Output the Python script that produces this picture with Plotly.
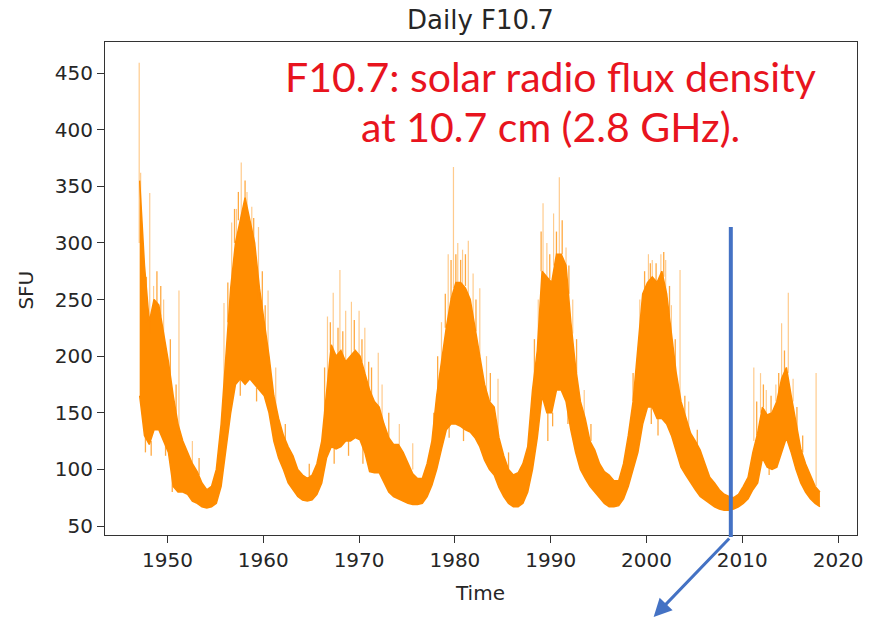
import plotly.graph_objects as go

# ---- data (half-year envelope of the daily series) ----
t = [1947.1, 1947.6, 1948.1, 1948.6, 1949.1, 1949.6, 1950.1, 1950.6, 1951.1, 1951.6,
     1952.1, 1952.6, 1953.1, 1953.6, 1954.1, 1954.6, 1955.1, 1955.6, 1956.1, 1956.6,
     1957.1, 1957.6, 1958.1, 1958.6, 1959.1, 1959.6, 1960.1, 1960.6, 1961.1, 1961.6,
     1962.1, 1962.6, 1963.1, 1963.6, 1964.1, 1964.6, 1965.1, 1965.6, 1966.1, 1966.6,
     1967.1, 1967.6, 1968.1, 1968.6, 1969.1, 1969.6, 1970.1, 1970.6, 1971.1, 1971.6,
     1972.1, 1972.6, 1973.1, 1973.6, 1974.1, 1974.6, 1975.1, 1975.6, 1976.1, 1976.6,
     1977.1, 1977.6, 1978.1, 1978.6, 1979.1, 1979.6, 1980.1, 1980.6, 1981.1, 1981.6,
     1982.1, 1982.6, 1983.1, 1983.6, 1984.1, 1984.6, 1985.1, 1985.6, 1986.1, 1986.6,
     1987.1, 1987.6, 1988.1, 1988.6, 1989.1, 1989.6, 1990.1, 1990.6, 1991.1, 1991.6,
     1992.1, 1992.6, 1993.1, 1993.6, 1994.1, 1994.6, 1995.1, 1995.6, 1996.1, 1996.6,
     1997.1, 1997.6, 1998.1, 1998.6, 1999.1, 1999.6, 2000.1, 2000.6, 2001.1, 2001.6,
     2002.1, 2002.6, 2003.1, 2003.6, 2004.1, 2004.6, 2005.1, 2005.6, 2006.1, 2006.6,
     2007.1, 2007.6, 2008.1, 2008.6, 2009.1, 2009.6, 2010.1, 2010.6, 2011.1, 2011.6,
     2012.1, 2012.6, 2013.1, 2013.6, 2014.1, 2014.6, 2015.1, 2015.6, 2016.1, 2016.6,
     2017.1, 2017.6, 2018.1]

low = [165, 130, 122, 135, 135, 125, 115, 85, 80, 80,
       78, 72, 70, 67, 66, 67, 70, 85, 120, 150,
       175, 180, 175, 180, 175, 170, 165, 150, 125, 110,
       100, 88, 82, 76, 73, 72, 73, 78, 88, 110,
       120, 118, 120, 125, 125, 128, 126, 115, 98, 97,
       97, 88, 80, 76, 74, 72, 70, 69, 69, 70,
       76, 86, 100, 118, 135, 140, 140, 138, 135, 133,
       128, 120, 108, 100, 95, 84, 76, 70, 67, 67,
       70, 80, 100, 128, 165, 150, 150, 170, 170, 160,
       135, 115, 100, 92, 85, 80, 75, 70, 67, 67,
       68, 74, 85, 100, 115, 140, 155, 155, 145, 145,
       140, 130, 115, 102, 95, 88, 82, 76, 73, 70,
       67, 65, 64, 64, 65, 67, 70, 74, 82, 88,
       110, 102, 100, 102, 115, 128, 115, 100, 88, 80,
       74, 70, 67]

high = [355, 280, 230, 250, 245, 220, 195, 165, 140, 125,
        115, 105, 98, 88, 82, 85, 100, 140, 200, 260,
        300, 320, 340, 320, 300, 260, 230, 200, 165, 145,
        130, 120, 112, 100, 95, 92, 95, 105, 125, 170,
        210, 200, 205, 195, 200, 205, 200, 185, 170, 160,
        155, 140, 128, 122, 122, 115, 105, 96, 92, 92,
        105, 125, 165, 195, 225, 250, 265, 265, 260, 250,
        225, 200, 175, 160, 155, 128, 112, 100, 95, 97,
        105, 120, 170, 205, 275, 270, 265, 290, 290, 280,
        230, 190, 160, 145, 125, 117, 105, 98, 95, 90,
        90, 105, 130, 160, 210, 255, 265, 270, 265, 275,
        255, 220, 185, 160, 145, 132, 125, 117, 105, 93,
        88, 82, 78, 76, 75, 78, 85, 93, 115, 132,
        155, 148, 150, 160, 180, 190, 165, 140, 118, 105,
        95, 85, 80]

# isolated tall daily spikes (time, band level there, spike top)
spike_t = [1947.05, 1947.2, 1948.15, 1948.55, 1949.6, 1951.2, 1952.6, 1955.9, 1956.7, 1957.2,
           1957.7, 1958.3, 1958.8, 1959.5, 1960.5, 1961.3, 1966.7, 1967.3, 1968.0, 1968.6,
           1969.2, 1970.0, 1970.6, 1972.0, 1972.4, 1974.2, 1975.6, 1978.6, 1979.3, 1979.85,
           1980.3, 1980.8, 1981.4, 1981.9, 1982.6, 1983.3, 1984.5, 1988.7, 1989.2, 1989.6,
           1990.3, 1990.9, 1991.6, 1992.3, 1993.5, 1999.3, 2000.2, 2000.6, 2001.5, 2002.0,
           2002.6, 2003.5, 2004.4, 2011.2, 2011.9, 2012.5, 2013.5, 2014.1, 2014.8, 2015.3,
           2017.7]
spike_base = [300, 280, 220, 240, 210, 130, 100, 140, 270, 300,
              320, 320, 300, 250, 200, 150, 170, 200, 200, 195,
              200, 200, 185, 155, 145, 120, 100, 195, 230, 260,
              260, 260, 250, 215, 200, 170, 130, 210, 270, 270,
              280, 290, 280, 220, 145, 220, 265, 265, 270, 255,
              215, 160, 135, 125, 150, 145, 160, 175, 185, 160,
              85]
spike_top = [459, 362, 344, 262, 250, 258, 125, 247, 318, 330,
             371, 345, 332, 314, 258, 190, 235, 256, 276, 240,
             248, 240, 225, 203, 175, 140, 123, 230, 290, 367,
             300, 294, 302, 273, 260, 200, 180, 250, 335, 300,
             326, 358, 296, 250, 170, 250, 290, 285, 290, 285,
             245, 276, 160, 190, 185, 170, 175, 229, 256, 180,
             185]

# short spikes along the upper edge of the band (time, band level, top)
edge_t = [1947.4, 1947.8, 1948.9, 1949.3, 1950.3, 1950.9, 1953.3, 1956.3, 1957.0, 1957.4,
          1958.1, 1959.0, 1959.9, 1960.2, 1962.3, 1964.8, 1966.4, 1967.0, 1967.8, 1968.3,
          1969.5, 1970.3, 1971.0, 1971.3, 1973.1, 1977.8, 1978.2, 1979.0, 1979.6, 1980.1,
          1980.6, 1981.1, 1982.2, 1983.7, 1985.6, 1988.3, 1989.0, 1989.9, 1990.6, 1991.2,
          1991.9, 1992.7, 1994.2, 1998.6, 1999.8, 2000.4, 2001.0, 2001.8, 2002.4, 2003.0,
          2004.0, 2005.3, 2011.5, 2012.2, 2013.0, 2013.8, 2014.4, 2015.7, 2016.3]
edge_base = [260, 230, 245, 235, 180, 150, 95, 230, 300, 320,
             335, 300, 240, 220, 125, 94, 150, 205, 200, 200,
             205, 195, 170, 165, 128, 130, 170, 225, 250, 265,
             265, 262, 222, 160, 100, 180, 275, 268, 290, 290,
             255, 185, 125, 160, 255, 265, 265, 270, 235, 190,
             145, 120, 130, 155, 150, 165, 185, 135, 115]
edge_top = [300, 270, 275, 262, 215, 175, 110, 265, 330, 345,
            355, 322, 275, 245, 140, 105, 190, 230, 225, 222,
            232, 215, 195, 190, 150, 150, 200, 255, 285, 290,
            285, 290, 250, 185, 115, 215, 310, 290, 310, 320,
            280, 215, 140, 185, 275, 282, 282, 292, 262, 215,
            165, 135, 160, 175, 165, 185, 205, 155, 130]

# short dips below the lower edge of the band (time, band level, bottom)
dip_t = [1947.7, 1948.3, 1949.8, 1950.5, 1957.6, 1959.3, 1967.4, 1968.9, 1970.4, 1979.4,
         1980.9, 1989.7, 1990.2, 1991.8, 2000.5, 2001.2, 2012.8]
dip_base = [130, 125, 125, 95, 180, 172, 118, 125, 120, 140,
            138, 150, 150, 155, 155, 145, 102]
dip_bottom = [115, 112, 112, 80, 165, 160, 105, 112, 105, 128,
              125, 125, 138, 140, 140, 130, 95]

x_ticks = [1950, 1960, 1970, 1980, 1990, 2000, 2010, 2020]
y_ticks = [50, 100, 150, 200, 250, 300, 350, 400, 450]

ORANGE = "#FF8C00"
FONT = "DejaVu Sans"


def segments(xs, y0s, y1s):
    px, py = [], []
    for a, b, c in zip(xs, y0s, y1s):
        px += [a, a, None]
        py += [b, c, None]
    return px, py


fig = go.Figure()

# dense band
fig.add_trace(go.Scatter(x=t, y=low, mode="lines",
                         line=dict(color=ORANGE, width=1.5),
                         hoverinfo="skip", showlegend=False))
fig.add_trace(go.Scatter(x=t, y=high, mode="lines", fill="tonexty",
                         fillcolor=ORANGE, line=dict(color=ORANGE, width=1.5),
                         hoverinfo="skip", showlegend=False))

# edge roughness and spikes
ex, ey = segments(edge_t, edge_base, edge_top)
fig.add_trace(go.Scatter(x=ex, y=ey, mode="lines",
                         line=dict(color="rgba(255,140,0,0.75)", width=1.3),
                         hoverinfo="skip", showlegend=False))
dx, dy = segments(dip_t, dip_base, dip_bottom)
fig.add_trace(go.Scatter(x=dx, y=dy, mode="lines",
                         line=dict(color="rgba(255,140,0,0.75)", width=1.3),
                         hoverinfo="skip", showlegend=False))
sx, sy = segments(spike_t, spike_base, spike_top)
fig.add_trace(go.Scatter(x=sx, y=sy, mode="lines",
                         line=dict(color="rgba(255,140,0,0.45)", width=1.2),
                         hoverinfo="skip", showlegend=False))

axis_common = dict(showgrid=False, zeroline=False, showline=True, mirror=True,
                   linecolor="#333333", linewidth=1, ticks="outside", ticklen=7,
                   tickcolor="#333333", tickwidth=1,
                   tickfont=dict(family=FONT, size=20, color="#262626"))

fig.update_xaxes(range=[1943.48, 2021.97], tickvals=x_ticks, **axis_common)
fig.update_yaxes(range=[42.05, 477.4], tickvals=y_ticks, **axis_common)

# blue marker line at the 2009 solar minimum + arrow
BLUE = "#4472C4"
fig.add_shape(type="line", xref="x", yref="paper", x0=2008.8, x1=2008.8,
              y0=-0.004, y1=0.6247, line=dict(color=BLUE, width=4))
fig.add_annotation(xref="paper", yref="paper", x=0.7296, y=-0.1663,
                   ax=77, ay=-80, axref="pixel", ayref="pixel",
                   text="", showarrow=True, arrowhead=2, arrowsize=1.2,
                   arrowwidth=3, arrowcolor=BLUE)

RED = "#E8141E"
fig.add_annotation(xref="paper", yref="paper", x=0.5923, y=(535 - 76) / 493,
                   text="F10.7: solar radio flux density", showarrow=False,
                   xanchor="center", yanchor="middle",
                   font=dict(family="Lato", size=41, color=RED))
fig.add_annotation(xref="paper", yref="paper", x=0.5923, y=(535 - 126) / 493,
                   text="at 10.7 cm (2.8 GHz).", showarrow=False,
                   xanchor="center", yanchor="middle",
                   font=dict(family="Lato", size=41, color=RED))

# titles
fig.add_annotation(xref="paper", yref="paper", x=0.4987, y=1 + 22 / 493,
                   text="Daily F10.7", showarrow=False, xanchor="center", yanchor="middle",
                   font=dict(family=FONT, size=26, color="#262626"))
fig.add_annotation(xref="paper", yref="paper", x=(25 - 105) / 758, y=0.497,
                   text="SFU", textangle=-90, showarrow=False,
                   xanchor="center", yanchor="middle",
                   font=dict(family=FONT, size=20, color="#262626"))
fig.add_annotation(xref="paper", yref="paper", x=0.4987, y=(535 - 593) / 493,
                   text="Time", showarrow=False, xanchor="center", yanchor="middle",
                   font=dict(family=FONT, size=20, color="#262626"))

fig.update_layout(width=873, height=621, margin=dict(l=105, r=10, t=42, b=86),
                  paper_bgcolor="white", plot_bgcolor="white", showlegend=False)

fig.write_html("out.html")
